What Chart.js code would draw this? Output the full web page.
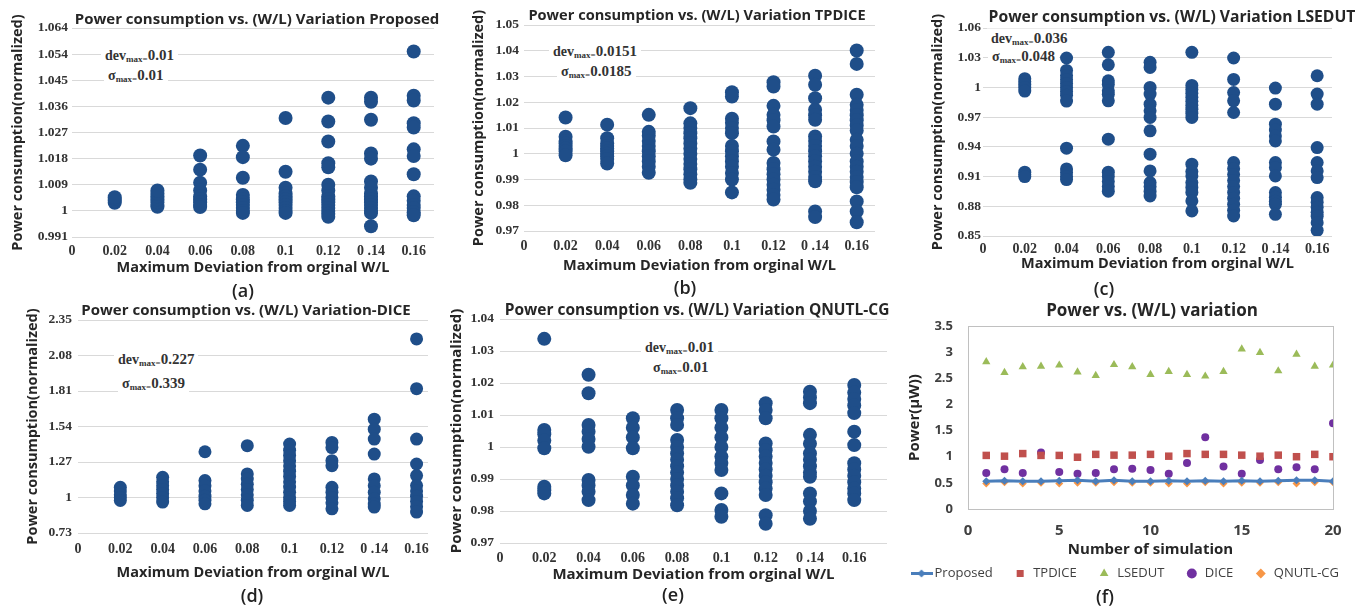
<!DOCTYPE html>
<html><head><meta charset="utf-8">
<script src="https://cdn.jsdelivr.net/npm/chart.js@4.4.1/dist/chart.umd.min.js"></script>
<style>
html,body{margin:0;padding:0;background:#fff;overflow:hidden;width:1355px;height:607px}
body{position:relative}
canvas{position:absolute}
.cap{position:absolute;font:600 18px 'Open Sans',sans-serif;color:#222;transform:translate(-50%,-50%);white-space:nowrap}
.ann{position:absolute;font:bold 14px 'Liberation Serif',serif;color:#333;background:#fff;padding:0 4px;line-height:19px;transform:translateY(-50%);white-space:nowrap}
.ann sub{font-size:9px;vertical-align:-2px;line-height:0}
.ann b{font-size:15px}
</style></head><body>
<canvas id="ca"></canvas><canvas id="cb"></canvas><canvas id="cc"></canvas>
<canvas id="cd"></canvas><canvas id="ce"></canvas><canvas id="cf"></canvas>

<div class="ann" style="left:101px;top:55px">dev<sub>max=</sub><b>0.01</b></div>
<div class="ann" style="left:104px;top:75px">σ<sub>max=</sub><b>0.01</b></div>
<div class="ann" style="left:549px;top:51px">dev<sub>max=</sub><b>0.0151</b></div>
<div class="ann" style="left:557px;top:71px">σ<sub>max=</sub><b>0.0185</b></div>
<div class="ann" style="left:987px;top:38px">dev<sub>max=</sub><b>0.036</b></div>
<div class="ann" style="left:988px;top:56px">σ<sub>max=</sub><b>0.048</b></div>
<div class="ann" style="left:114px;top:359px">dev<sub>max=</sub><b>0.227</b></div>
<div class="ann" style="left:118px;top:383px">σ<sub>max=</sub><b>0.339</b></div>
<div class="ann" style="left:641px;top:347px">dev<sub>max=</sub><b>0.01</b></div>
<div class="ann" style="left:649px;top:367px">σ<sub>max=</sub><b>0.01</b></div>

<div class="cap" style="left:243px;top:290px">(a)</div>
<div class="cap" style="left:685px;top:287px">(b)</div>
<div class="cap" style="left:1104px;top:288px">(c)</div>
<div class="cap" style="left:252px;top:595px">(d)</div>
<div class="cap" style="left:673px;top:594px">(e)</div>
<div class="cap" style="left:1105px;top:596px">(f)</div>

<script>
// ---------- data ----------
const xCats = [0.02, 0.04, 0.06, 0.08, 0.1, 0.12, 0.14, 0.16];
const xTickVals = [0, 0.02, 0.04, 0.06, 0.08, 0.1, 0.12, 0.14, 0.16];
const xTickLabels = ['0', '0.02', '0.04', '0.06', '0.08', '0.1', '0.12', '0 .14', '0.16'];

const yTicksA = [0.991, 1, 1.009, 1.018, 1.027, 1.036, 1.045, 1.054, 1.063];
const yLabelsA = ['0.991', '1', '1.009', '1.018', '1.027', '1.036', '1.045', '1.054', '1.064'];
const yTicksB = [0.97, 0.98, 0.99, 1, 1.01, 1.02, 1.03, 1.04, 1.05];
const yLabelsB = ['0.97', '0.98', '0.99', '1', '1.01', '1.02', '1.03', '1.04', '1.05'];
const yTicksC = [0.85, 0.88, 0.91, 0.94, 0.97, 1, 1.03, 1.06];
const yLabelsC = ['0.85', '0.88', '0.91', '0.94', '0.97', '1', '1.03', '1.06'];
const yTicksD = [0.73, 1, 1.27, 1.54, 1.81, 2.08, 2.35];
const yLabelsD = ['0.73', '1', '1.27', '1.54', '1.81', '2.08', '2.35'];
const yTicksE = [0.97, 0.98, 0.99, 1, 1.01, 1.02, 1.03, 1.04];
const yLabelsE = ['0.97', '0.98', '0.99', '1', '1.01', '1.02', '1.03', '1.04'];
const yTicksF = [0, 0.5, 1, 1.5, 2, 2.5, 3, 3.5];
const yLabelsF = ['0', '0.5', '1', '1.5', '2', '2.5', '3', '3.5'];
const xTicksF = [0, 5, 10, 15, 20];

const normProposed = [
  [1.0028, 1.0035, 1.0041, 1.0047],
  [1.0014, 1.002, 1.003, 1.004, 1.005, 1.006, 1.007],
  [1.0191, 1.0142, 1.0097, 1.007, 1.005, 1.004, 1.003, 1.002, 1.0013],
  [1.0224, 1.0185, 1.0114, 1.0055, 1.004, 1.003, 1.002, 1.001, 1.0, 0.9993],
  [1.032, 1.0135, 1.008, 1.006, 1.005, 1.004, 1.003, 1.002, 1.001, 1.0, 0.9993],
  [1.039, 1.0308, 1.0239, 1.0164, 1.015, 1.009, 1.007, 1.005, 1.004, 1.003, 1.002, 1.001, 1.0, 0.999, 0.998],
  [1.039, 1.0376, 1.0314, 1.0198, 1.018, 1.0101, 1.008, 1.006, 1.005, 1.004, 1.003, 1.002, 1.001, 1.0, 0.9993, 0.9947],
  [1.0549, 1.0397, 1.038, 1.0302, 1.0287, 1.0212, 1.0189, 1.0126, 1.005, 1.0035, 1.002, 1.001, 0.9995, 0.9985]
];
const normTPDICE = [
  [1.0141, 1.0066, 1.005, 1.004, 1.003, 1.002, 1.001, 0.9994],
  [1.0113, 1.006, 1.004, 1.003, 1.002, 1.001, 1.0, 0.999, 0.998, 0.9962],
  [1.0151, 1.0085, 1.007, 1.005, 1.003, 1.001, 0.999, 0.997, 0.995, 0.9926],
  [1.0177, 1.0118, 1.01, 1.008, 1.006, 1.004, 1.002, 1.0, 0.998, 0.996, 0.994, 0.992, 0.99, 0.9887],
  [1.0239, 1.0222, 1.0136, 1.012, 1.01, 1.008, 1.003, 1.001, 0.999, 0.997, 0.995, 0.9925, 0.99, 0.985],
  [1.0278, 1.0261, 1.0186, 1.0151, 1.013, 1.0106, 1.0048, 1.0016, 0.9964, 0.994, 0.992, 0.99, 0.988, 0.986, 0.984, 0.9822],
  [1.0303, 1.0268, 1.0216, 1.0171, 1.015, 1.0132, 1.0067, 1.005, 1.003, 1.001, 0.999, 0.997, 0.995, 0.993, 0.991, 0.9893, 0.9776, 0.9754],
  [1.0401, 1.0349, 1.0229, 1.019, 1.017, 1.015, 1.013, 1.011, 1.009, 1.0054, 1.003, 1.0, 0.997, 0.995, 0.993, 0.991, 0.989, 0.987, 0.9815, 0.9776, 0.9734]
];
const normLSEDUT = [
  [1.0088, 1.006, 1.003, 1.0, 0.9963, 0.9144, 0.912, 0.91],
  [1.0297, 1.0172, 1.012, 1.008, 1.004, 1.0, 0.996, 0.992, 0.9862, 0.9387, 0.9177, 0.914, 0.91, 0.907],
  [1.0354, 1.0229, 1.0067, 1.003, 0.9966, 0.993, 0.9865, 0.9478, 0.9144, 0.91, 0.905, 0.9, 0.8952],
  [1.0253, 1.0202, 1.0, 0.9933, 0.9831, 0.9764, 0.9697, 0.9562, 0.9326, 0.9157, 0.9039, 0.9, 0.895, 0.8904],
  [1.0354, 1.002, 0.998, 0.994, 0.99, 0.986, 0.982, 0.978, 0.974, 0.9697, 0.9225, 0.915, 0.9107, 0.9039, 0.899, 0.894, 0.8854, 0.8753],
  [1.0297, 1.0081, 0.9949, 0.9865, 0.9747, 0.9242, 0.918, 0.912, 0.906, 0.9, 0.894, 0.888, 0.882, 0.876, 0.8702],
  [0.9993, 0.9831, 0.9629, 0.957, 0.951, 0.946, 0.9242, 0.9191, 0.9107, 0.8938, 0.889, 0.885, 0.882, 0.8719],
  [1.0118, 0.9933, 0.9831, 0.9393, 0.9242, 0.9157, 0.909, 0.8888, 0.884, 0.879, 0.874, 0.87, 0.8635, 0.8557]
];
const normDICE = [
  [1.078, 1.05, 1.02, 1.0, 0.977],
  [1.154, 1.12, 1.09, 1.06, 1.03, 1.0, 0.965],
  [1.348, 1.129, 1.09, 1.05, 1.01, 0.98, 0.952],
  [1.394, 1.179, 1.14, 1.1, 1.06, 1.02, 0.98, 0.94],
  [1.406, 1.36, 1.32, 1.28, 1.24, 1.2, 1.16, 1.12, 1.08, 1.04, 1.0, 0.97, 0.94],
  [1.419, 1.38, 1.28, 1.242, 1.078, 1.04, 1.0, 0.96, 0.914],
  [1.596, 1.52, 1.444, 1.33, 1.141, 1.09, 1.04, 0.99, 0.95, 0.927],
  [2.206, 1.828, 1.444, 1.255, 1.167, 1.091, 1.05, 1.01, 0.97, 0.93, 0.889]
];
const normQNUTL = [
  [1.0338, 1.0053, 1.004, 1.002, 0.9996, 0.9876, 0.9865, 0.9855],
  [1.0226, 1.0168, 1.0069, 1.0048, 1.0025, 1.0001, 0.9897, 0.988, 0.986, 0.9834],
  [1.009, 1.006, 1.003, 0.9996, 0.9907, 0.988, 0.985, 0.9823],
  [1.0116, 1.009, 1.0069, 1.0022, 1.0, 0.998, 0.996, 0.994, 0.992, 0.99, 0.988, 0.986, 0.984, 0.9818],
  [1.0116, 1.009, 1.006, 1.003, 1.0, 0.997, 0.995, 0.9928, 0.9855, 0.9803, 0.9782],
  [1.0137, 1.0116, 1.009, 1.0011, 0.999, 0.997, 0.995, 0.993, 0.991, 0.989, 0.987, 0.985, 0.9787, 0.976],
  [1.0173, 1.0155, 1.0137, 1.0038, 1.001, 0.998, 0.996, 0.994, 0.992, 0.9907, 0.9855, 0.983, 0.98, 0.9776],
  [1.0194, 1.017, 1.015, 1.013, 1.0106, 1.0048, 1.0006, 0.9949, 0.993, 0.991, 0.989, 0.987, 0.9855, 0.9834]
];

const simRuns = [1, 2, 3, 4, 5, 6, 7, 8, 9, 10, 11, 12, 13, 14, 15, 16, 17, 18, 19, 20];
const powProposed = [0.53, 0.54, 0.53, 0.53, 0.54, 0.55, 0.53, 0.55, 0.53, 0.53, 0.54, 0.53, 0.54, 0.53, 0.54, 0.53, 0.54, 0.55, 0.55, 0.53];
const powTPDICE = [1.025, 1.01, 1.06, 1.025, 1.025, 0.99, 1.045, 1.03, 1.03, 1.045, 1.01, 1.06, 1.045, 1.045, 1.03, 1.01, 1.03, 1.0, 1.045, 1.0];
const powLSEDUT = [2.815, 2.61, 2.72, 2.73, 2.75, 2.62, 2.55, 2.76, 2.72, 2.57, 2.63, 2.57, 2.54, 2.63, 3.06, 2.99, 2.64, 2.96, 2.73, 2.75];
const powDICE = [0.69, 0.76, 0.69, 1.08, 0.71, 0.675, 0.69, 0.76, 0.77, 0.745, 0.675, 0.88, 1.37, 0.815, 0.675, 0.935, 0.76, 0.80, 0.76, 1.64];
const powQNUTL = [0.49, 0.51, 0.49, 0.50, 0.49, 0.50, 0.50, 0.51, 0.50, 0.50, 0.49, 0.49, 0.51, 0.49, 0.50, 0.50, 0.51, 0.49, 0.51, 0.51];

// ---------- drawing ----------
const NAVY = '#1f4e89';
const TXT = '#262626';
const TICK = '#333333';

function placeCanvas(id, box) {
  const c = document.getElementById(id);
  c.width = box.W; c.height = box.H;
  c.style.left = box.cl + 'px'; c.style.top = box.ct + 'px';
  return c;
}

function scatterPanel(id, p) {
  const c = placeCanvas(id, p.box);
  const {cl, ct, W, H} = p.box;
  const A = p.area;
  const ts = p.titleSize, as = p.axisSize;
  const tPadTop = p.titleCY - ct - ts / 2;
  const data = xCats.flatMap((x, i) => p.ys[i].map(y => ({x, y})));
  new Chart(c, {
    type: 'scatter',
    data: {datasets: [{data, xAxisID: 'x', yAxisID: 'y', backgroundColor: NAVY, borderWidth: 0,
      pointRadius: p.radius, pointHoverRadius: p.radius}]},
    options: {
      responsive: false, animation: false, events: [],
      layout: {padding: 0},
      plugins: {
        legend: {display: false}, tooltip: {enabled: false},
        title: {display: true, text: p.title, color: TXT,
          font: {family: "'Open Sans'", weight: 'bold', size: ts, lineHeight: 1},
          padding: {top: tPadTop, bottom: (A.t - ct) - tPadTop - ts}}
      },
      scales: {
        x: {type: 'linear', min: 0, max: p.xMax,
          afterBuildTicks: s => { s.ticks = xTickVals.map(v => ({value: v})); },
          afterFit: s => { s.height = (ct + H) - A.b; },
          ticks: {callback: (v, i) => xTickLabels[i], autoSkip: false, maxRotation: 0,
            padding: p.xTickCY - A.b - 7.5, color: TICK,
            font: {family: "'Liberation Serif'", weight: 'bold', size: 14}},
          grid: {display: false, drawTicks: false}, border: {display: false},
          title: {display: true, text: 'Maximum Deviation from orginal W/L', color: TXT,
            font: {family: "'Open Sans'", weight: 'bold', size: as},
            padding: {top: 0, bottom: (ct + H) - p.xTitleCY - as * 0.6}}
        },
        y: {type: 'linear', position: 'left', min: p.yTicks[0], max: p.yTicks[p.yTicks.length - 1],
          afterBuildTicks: s => { s.ticks = p.yTicks.map(v => ({value: v})); },
          afterFit: s => { s.width = A.l - cl; },
          ticks: {callback: (v, i) => p.yLabels[i], autoSkip: false, padding: p.yTickPad, color: TICK,
            font: {family: "'Liberation Serif'", weight: 'bold', size: 13.5}},
          grid: {color: '#d9d9d9', lineWidth: 1, drawTicks: false}, border: {display: false},
          title: {display: true, text: 'Power consumption(normalized)', color: TXT,
            font: {family: "'Open Sans'", weight: 'bold', size: as},
            padding: {top: p.yTitleCX - cl - as * 0.6, bottom: 0}}
        },
        yRight: {type: 'linear', axis: 'y', position: 'right', display: true,
          grid: {display: false, drawTicks: false}, border: {display: false}, ticks: {display: false},
          afterFit: s => { s.width = (cl + W) - A.r; }}
      }
    }
  });
}

scatterPanel('ca', {title: 'Power consumption vs. (W/L) Variation Proposed', ys: normProposed,
  yTicks: yTicksA, yLabels: yLabelsA, box: {cl: 0, ct: 0, W: 514, H: 282},
  area: {l: 72, t: 28, r: 434, b: 237}, titleCY: 20, yTitleCX: 18, xTickCY: 250, xTitleCY: 268,
  xMax: 0.1695, yTickPad: 4, radius: 7, titleSize: 15, axisSize: 14.5});
scatterPanel('cb', {title: 'Power consumption vs. (W/L) Variation TPDICE', ys: normTPDICE,
  yTicks: yTicksB, yLabels: yLabelsB, box: {cl: 460, ct: 0, W: 474, H: 282},
  area: {l: 524, t: 25, r: 875, b: 231}, titleCY: 16, yTitleCX: 479, xTickCY: 245, xTitleCY: 266,
  xMax: 0.1688, yTickPad: 5, radius: 7, titleSize: 14.6, axisSize: 14.5});
scatterPanel('cc', {title: 'Power consumption vs. (W/L) Variation LSEDUT', ys: normLSEDUT,
  yTicks: yTicksC, yLabels: yLabelsC, box: {cl: 920, ct: 0, W: 504, H: 282},
  area: {l: 983, t: 28, r: 1332, b: 236}, titleCY: 18, yTitleCX: 938, xTickCY: 248, xTitleCY: 264,
  xMax: 0.1671, yTickPad: 2, radius: 6.5, titleSize: 15.7, axisSize: 14.5});
scatterPanel('cd', {title: 'Power consumption vs. (W/L) Variation-DICE', ys: normDICE,
  yTicks: yTicksD, yLabels: yLabelsD, box: {cl: 0, ct: 300, W: 492, H: 300},
  area: {l: 78, t: 320, r: 428, b: 533}, titleCY: 311, yTitleCX: 33, xTickCY: 548, xTitleCY: 573,
  xMax: 0.1654, yTickPad: 6, radius: 6.5, titleSize: 15, axisSize: 14.5});
scatterPanel('ce', {title: 'Power consumption vs. (W/L) Variation QNUTL-CG', ys: normQNUTL,
  yTicks: yTicksE, yLabels: yLabelsE, box: {cl: 445, ct: 300, W: 504, H: 300},
  area: {l: 500, t: 319, r: 887, b: 543}, titleCY: 311, yTitleCX: 457, xTickCY: 557, xTitleCY: 575,
  xMax: 0.1748, yTickPad: 6, radius: 7, titleSize: 15.5, axisSize: 15});

// ---------- panel (f) ----------
(function () {
  const box = {cl: 894, ct: 300, W: 516, H: 307};
  const A = {l: 968, t: 326, r: 1333, b: 509};
  const c = placeCanvas('cf', box);
  const BLUE = '#4a7ebb';
  const lineImg = document.createElement('canvas');
  lineImg.width = 22; lineImg.height = 9;
  const g = lineImg.getContext('2d');
  g.strokeStyle = BLUE; g.lineWidth = 3;
  g.beginPath(); g.moveTo(0, 4.5); g.lineTo(22, 4.5); g.stroke();
  g.fillStyle = BLUE;
  g.beginPath(); g.moveTo(11, 0.5); g.lineTo(15, 4.5); g.lineTo(11, 8.5); g.lineTo(7, 4.5); g.closePath(); g.fill();

  const pts = arr => simRuns.map((x, i) => ({x, y: arr[i]}));
  new Chart(c, {
    type: 'scatter',
    data: {datasets: [
      {label: 'Proposed', data: pts(powProposed), showLine: true, borderColor: BLUE, backgroundColor: BLUE,
        borderWidth: 3, pointStyle: 'rectRot', pointRadius: 4, pointBorderWidth: 0, xAxisID: 'x', yAxisID: 'y'},
      {label: 'TPDICE', data: pts(powTPDICE), backgroundColor: '#c0504d', borderWidth: 0,
        pointStyle: 'rect', pointRadius: 5.3, xAxisID: 'x', yAxisID: 'y'},
      {label: 'LSEDUT', data: pts(powLSEDUT), backgroundColor: '#9bbb59', borderWidth: 0,
        pointStyle: 'triangle', pointRadius: 4.8, xAxisID: 'x', yAxisID: 'y'},
      {label: 'DICE', data: pts(powDICE), backgroundColor: '#7030a0', borderWidth: 0,
        pointStyle: 'circle', pointRadius: 4, xAxisID: 'x', yAxisID: 'y'},
      {label: 'QNUTL-CG', data: pts(powQNUTL), backgroundColor: '#f79646', borderWidth: 0,
        pointStyle: 'rectRot', pointRadius: 4, xAxisID: 'x', yAxisID: 'y'}
    ]},
    options: {
      responsive: false, animation: false, events: [],
      layout: {padding: {left: 0, right: 0, top: 0, bottom: 17}},
      plugins: {
        tooltip: {enabled: false},
        title: {display: true, text: 'Power vs. (W/L) variation', color: TXT,
          font: {family: "'Open Sans'", weight: 'bold', size: 17, lineHeight: 1},
          padding: {top: 2.5, bottom: 6.5}},
        legend: {display: true, position: 'bottom', align: 'start',
          labels: {usePointStyle: true, boxWidth: 13, boxHeight: 7, padding: 21, color: '#404040',
            font: {family: "'Open Sans'", size: 13},
            generateLabels: chart => {
              const items = Chart.defaults.plugins.legend.labels.generateLabels(chart);
              items[0].pointStyle = lineImg;
              return items;
            }}}
      },
      scales: {
        x: {type: 'linear', min: 0, max: 20,
          afterBuildTicks: s => { s.ticks = xTicksF.map(v => ({value: v})); },
          afterFit: s => { s.height = 37; },
          ticks: {callback: (v, i) => String(xTicksF[i]), padding: 13, color: '#404040',
            font: {family: "'Open Sans'", weight: 'bold', size: 15}},
          grid: {drawTicks: false, color: ctx => (ctx.tick && ctx.tick.value === 20) ? '#c0c0c0' : 'rgba(0,0,0,0)'},
          border: {display: true, color: '#c0c0c0'},
          title: {display: true, text: 'Number of simulation', color: TXT,
            font: {family: "'Open Sans'", weight: 'bold', size: 15},
            padding: {top: 0, bottom: -13}}
        },
        y: {type: 'linear', position: 'left', min: 0, max: 3.5,
          afterBuildTicks: s => { s.ticks = yTicksF.map(v => ({value: v})); },
          afterFit: s => { s.width = A.l - box.cl; },
          ticks: {callback: (v, i) => yLabelsF[i], padding: 15, color: '#404040',
            font: {family: "'Open Sans'", weight: 'bold', size: 13}},
          grid: {drawTicks: false, color: ctx => (ctx.tick && ctx.tick.value === 3.5) ? '#c0c0c0' : 'rgba(0,0,0,0)'},
          border: {display: true, color: '#c0c0c0'},
          title: {display: true, text: 'Power(µW))', color: TXT,
            font: {family: "'Open Sans'", weight: 'bold', size: 15},
            padding: {top: 915 - box.cl - 9, bottom: 0}}
        },
        yRight: {type: 'linear', axis: 'y', position: 'right', display: true,
          grid: {display: false, drawTicks: false}, border: {display: false}, ticks: {display: false},
          afterFit: s => { s.width = (box.cl + box.W) - A.r; }}
      }
    }
  });
})();
</script>
</body></html>
